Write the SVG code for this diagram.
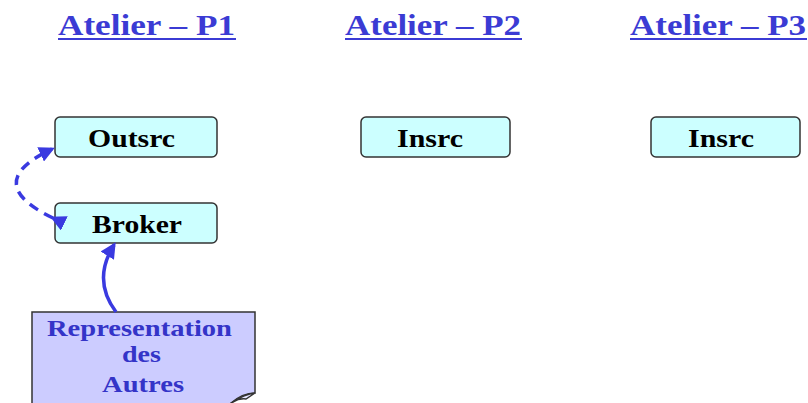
<svg xmlns="http://www.w3.org/2000/svg" width="808" height="403" viewBox="0 0 808 403">
<defs>
<style>
.title{font-family:"Liberation Serif","Times New Roman",serif;font-size:29px;font-weight:bold;fill:#3b3bd4;}
.ul{stroke:#3b3bd4;stroke-width:2;}
.box{fill:#ccffff;stroke:#333333;stroke-width:1.5;}
.lbl{font-family:"Liberation Serif","Times New Roman",serif;font-size:25px;font-weight:bold;fill:#000000;}
.note{fill:#ccccff;stroke:#333333;stroke-width:1.5;}
.ntxt{font-family:"Liberation Serif","Times New Roman",serif;font-size:23px;font-weight:bold;fill:#3434c8;}
.conn{fill:none;stroke:#3a3ae0;stroke-width:3.5;}
</style>
<marker id="ah" viewBox="0 0 10 10" refX="8" refY="5" markerWidth="4.5" markerHeight="4.5" orient="auto" markerUnits="strokeWidth">
<path d="M0,0 L10,5 L0,10 z" fill="#3a3ae0"/>
</marker>
</defs>
<g id="title-p1">
<text class="title" x="58" y="35" textLength="177" lengthAdjust="spacingAndGlyphs">Atelier – P1</text>
<line class="ul" x1="58" y1="39" x2="236" y2="39"/>
</g>
<g id="title-p2">
<text class="title" x="345" y="35" textLength="176" lengthAdjust="spacingAndGlyphs">Atelier – P2</text>
<line class="ul" x1="345" y1="39" x2="522" y2="39"/>
</g>
<g id="title-p3">
<text class="title" x="630" y="35" textLength="176" lengthAdjust="spacingAndGlyphs">Atelier – P3</text>
<line class="ul" x1="630" y1="39" x2="807" y2="39"/>
</g>
<g id="outsrc">
<rect class="box" x="55" y="117" width="162" height="40" rx="5"/>
<text class="lbl" x="88" y="147" textLength="87" lengthAdjust="spacingAndGlyphs">Outsrc</text>
</g>
<g id="broker">
<rect class="box" x="55" y="203" width="162" height="40" rx="5"/>
<text class="lbl" x="92" y="233" textLength="90" lengthAdjust="spacingAndGlyphs">Broker</text>
</g>
<g id="insrc-p2">
<rect class="box" x="361" y="117" width="149" height="40" rx="5"/>
<text class="lbl" x="397" y="147" textLength="66" lengthAdjust="spacingAndGlyphs">Insrc</text>
</g>
<g id="insrc-p3">
<rect class="box" x="651" y="117" width="149" height="40" rx="5"/>
<text class="lbl" x="688" y="147" textLength="66" lengthAdjust="spacingAndGlyphs">Insrc</text>
</g>
<g id="note">
<path class="note" d="M32 312 H255 V393 Q242 393 230 404 H32 Z"/>
<path d="M255 393 Q244 394 230 404 Q238 398 246 399 Z" fill="#e6e6ff" stroke="#333333" stroke-width="1.5"/>
<text class="ntxt" x="47" y="336" textLength="185" lengthAdjust="spacingAndGlyphs">Representation</text>
<text class="ntxt" x="122" y="362" textLength="39" lengthAdjust="spacingAndGlyphs">des</text>
<text class="ntxt" x="102" y="392" textLength="82" lengthAdjust="spacingAndGlyphs">Autres</text>
</g>
<g id="connectors">
<path class="conn" d="M53 218 Q-20 183 52 149" stroke-dasharray="10,7" marker-start="url(#ah)" marker-end="url(#ah)"/>
<path class="conn" d="M116 312 Q92 280 114 245" marker-end="url(#ah)"/>
</g>
</svg>
